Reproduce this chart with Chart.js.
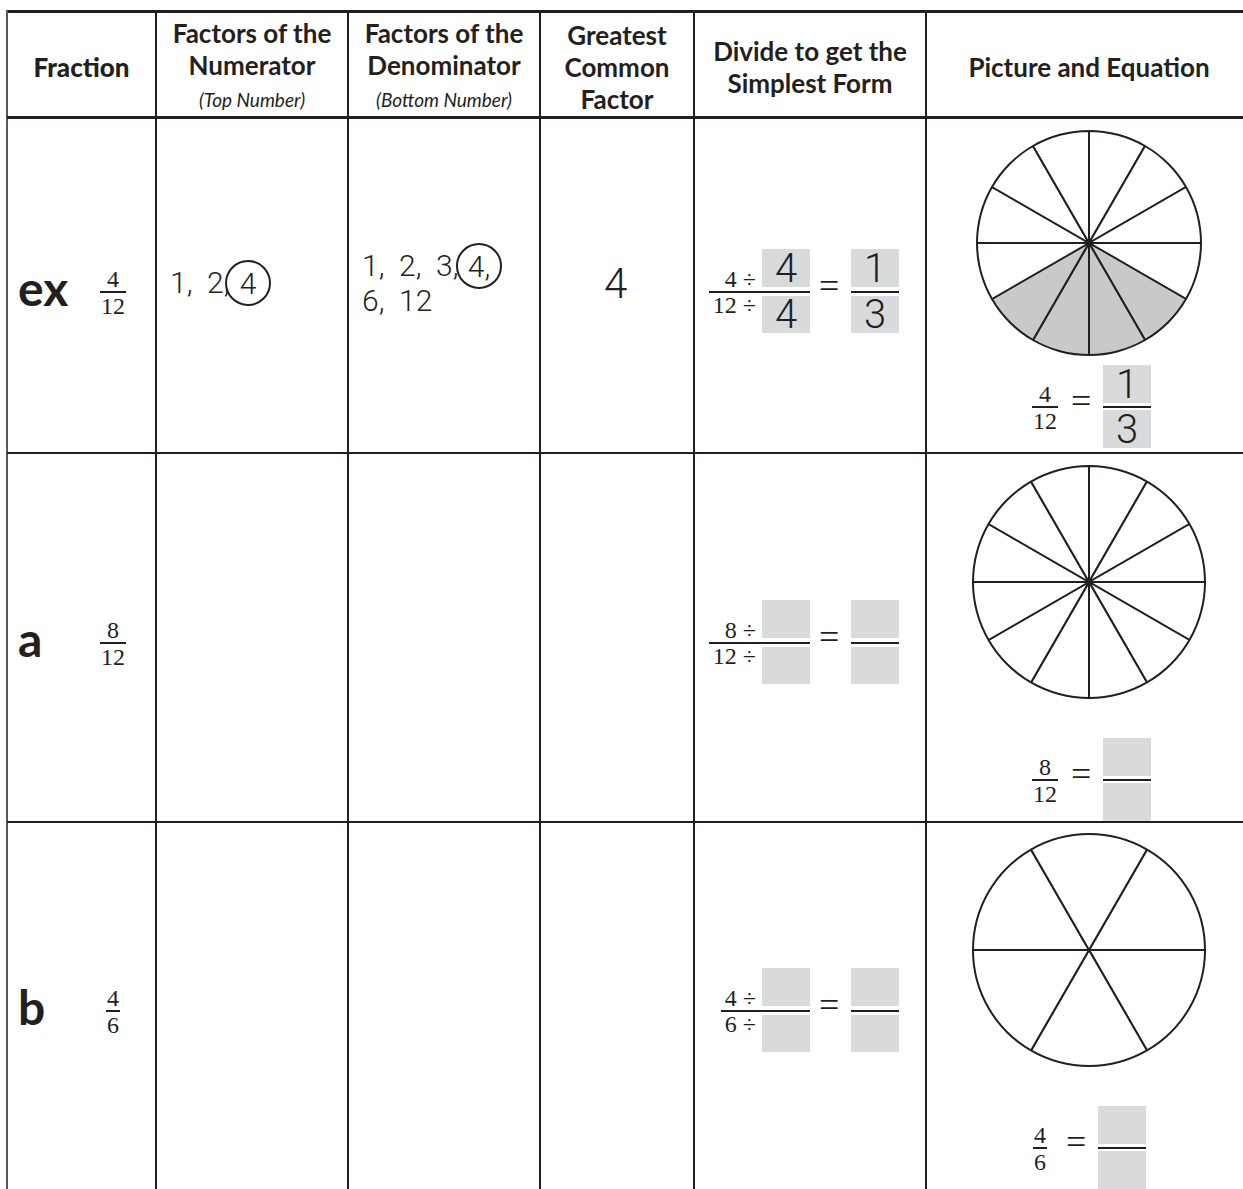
<!DOCTYPE html>
<html>
<head>
<meta charset="utf-8">
<script src="https://cdn.jsdelivr.net/npm/chart.js@4.4.1/dist/chart.umd.min.js"></script>
<style>
body { margin: 0; background: #fff; }
#page { position: relative; width: 1243px; height: 1189px; overflow: hidden; background: #fff; color: #231f20; }
.ln { position: absolute; background: #231f20; }
.hd { position: absolute; top: 14px; height: 105px; display: flex; flex-direction: column; justify-content: center; align-items: center;
      font-family: Lato, sans-serif; font-weight: bold; font-size: 26px; line-height: 32px; text-align: center; }
.hd i { font-weight: normal; font-size: 19px; }
.t { position: absolute; white-space: nowrap; }
.lbl { font-family: Lato, sans-serif; font-weight: bold; font-size: 48px; line-height: 48px; }
.serif { font-family: "Liberation Serif", serif; font-size: 24px; line-height: 24px; }
.eq { font-family: "Liberation Serif", serif; font-size: 36px; line-height: 36px; }
.hand { font-family: Roboto, sans-serif; font-weight: 300; }
.box { position: absolute; background: #d9dadc; display: flex; justify-content: center; align-items: center;
       font-family: Roboto, sans-serif; font-weight: 300; font-size: 40px; }
.ring { position: absolute; border: 2px solid #231f20; border-radius: 50%; box-sizing: border-box;
        display: flex; justify-content: center; align-items: center; font-family: Roboto, sans-serif; font-weight: 300; font-size: 30px; }
.sf { position: absolute; display: flex; flex-direction: column; align-items: center; transform: translateX(-50%); }
.sf .n, .sf .d { font-family: "Liberation Serif", serif; font-size: 24px; line-height: 24px; padding: 0 1px; }
.sf .d { margin-top: 1px; }
.sf .b { height: 1.5px; background: #231f20; align-self: stretch; }
canvas { position: absolute; }
</style>
</head>
<body>
<div id="page"></div>
<script>
// ---- data ----
const headers = [
  ['<b>Fraction</b>'],
  ['Factors of the', 'Numerator', '<i>(Top Number)</i>'],
  ['Factors of the', 'Denominator', '<i>(Bottom Number)</i>'],
  ['Greatest', 'Common', 'Factor'],
  ['Divide to get the', 'Simplest Form'],
  ['Picture and Equation']
];
const rowLabels = ['ex', 'a', 'b'];
const numerators = [4, 8, 4];
const denominators = [12, 12, 6];
const gcfAnswer = ['4', '', ''];
const simpleNum = ['1', '', ''];
const simpleDen = ['3', '', ''];

// pie slices (equal parts) and which ones are shaded
const exSlices = [1, 1, 1, 1, 1, 1, 1, 1, 1, 1, 1, 1];
const exShaded = [0, 0, 0, 0, 1, 1, 1, 1, 0, 0, 0, 0];
const aSlices = [1, 1, 1, 1, 1, 1, 1, 1, 1, 1, 1, 1];
const aShaded = [0, 0, 0, 0, 0, 0, 0, 0, 0, 0, 0, 0];
const bSlices = [1, 1, 1, 1, 1, 1];
const bShaded = [0, 0, 0, 0, 0, 0];
const pieRotation = [0, 0, 30];

// ---- layout ----
const colX = [7, 156, 348, 540, 694, 926, 1252];
const rowTop = [118, 453, 822];
const divBar = [292, 643, 1011];
const pieCY = [243, 582, 950];
const pieR = [112, 116, 116];
const picBar = [407, 780, 1148];

const page = document.getElementById('page');
function add(html) { page.insertAdjacentHTML('beforeend', html); }

// grid lines
add(`<div class="ln" style="left:7px;top:10px;width:1240px;height:3px"></div>`);
add(`<div class="ln" style="left:6px;top:10px;width:2px;height:1180px;background:#5a5758"></div>`);
colX.slice(1, 6).forEach(x => add(`<div class="ln" style="left:${x - 1}px;top:12px;width:2px;height:1180px"></div>`));
add(`<div class="ln" style="left:7px;top:116px;width:1240px;height:3px"></div>`);
rowTop.slice(1).forEach(y => add(`<div class="ln" style="left:7px;top:${y - 1}px;width:1240px;height:2px"></div>`));

// header
headers.forEach((h, i) => {
  add(`<div class="hd" style="left:${colX[i]}px;width:${colX[i + 1] - colX[i]}px">${h.map(s => `<div>${s}</div>`).join('')}</div>`);
});

function stackFrac(cx, bar, n, d) {
  add(`<div class="sf" style="left:${cx}px;top:${bar - 24.75}px"><div class="n">${n}</div><div class="b"></div><div class="d">${d}</div></div>`);
}

rowLabels.forEach((lab, i) => {
  const B = divBar[i];
  // row label + fraction
  add(`<div class="t lbl" style="left:18px;top:${B + 15 - 42.6}px">${lab}</div>`);
  stackFrac(113, B, numerators[i], denominators[i]);

  // divide to simplest form
  const nt = `${numerators[i]} ÷`, dt = `${denominators[i]} ÷`;
  add(`<div class="t serif" style="right:${1243 - 756}px;top:${B - 5 - 20}px">${nt}</div>`);
  add(`<div class="t serif" style="right:${1243 - 756}px;top:${B + 21 - 20}px">${dt}</div>`);
  const barLeft = String(denominators[i]).length > 1 ? 709 : 721;
  add(`<div class="ln" style="left:${barLeft}px;top:${B - 0.75}px;width:${810 - barLeft}px;height:1.5px"></div>`);
  add(`<div class="box" style="left:762px;top:${B - 43}px;width:48px;height:38px">${gcfAnswer[i]}</div>`);
  add(`<div class="box" style="left:762px;top:${B + 4}px;width:48px;height:37px">${gcfAnswer[i]}</div>`);
  add(`<div class="t eq" style="left:819px;top:${B - 24}px">=</div>`);
  add(`<div class="ln" style="left:851px;top:${B - 0.75}px;width:48px;height:1.5px"></div>`);
  add(`<div class="box" style="left:851px;top:${B - 43}px;width:48px;height:38px">${simpleNum[i]}</div>`);
  add(`<div class="box" style="left:851px;top:${B + 4}px;width:48px;height:37px">${simpleDen[i]}</div>`);

  // picture equation under the pie
  const P = picBar[i];
  const bx = String(denominators[i]).length > 1 ? 1103 : 1098;
  stackFrac(bx - 58, P, numerators[i], denominators[i]);
  add(`<div class="t eq" style="left:${bx - 32}px;top:${P - 24}px">=</div>`);
  add(`<div class="ln" style="left:${bx}px;top:${P - 0.75}px;width:48px;height:1.5px"></div>`);
  add(`<div class="box" style="left:${bx}px;top:${P - 42}px;width:48px;height:38px">${simpleNum[i]}</div>`);
  add(`<div class="box" style="left:${bx}px;top:${P + 3}px;width:48px;height:38px">${simpleDen[i]}</div>`);
});

// worked example: factor lists and GCF
add(`<div class="t hand" style="left:170px;top:268px;font-size:30px;line-height:30px">1,&nbsp; 2,</div>`);
add(`<div class="ring" style="left:225px;top:260px;width:46px;height:46px">4</div>`);
add(`<div class="t hand" style="left:362px;top:251px;font-size:30px;line-height:30px">1,&nbsp; 2,&nbsp; 3,</div>`);
add(`<div class="ring" style="left:456px;top:243px;width:46px;height:46px">4,</div>`);
add(`<div class="t hand" style="left:362px;top:286px;font-size:30px;line-height:30px">6,&nbsp; 12</div>`);
add(`<div class="t hand" style="left:604px;top:263px;font-size:42px;line-height:42px">${gcfAnswer[0]}</div>`);

// pies
const pies = [[exSlices, exShaded], [aSlices, aShaded], [bSlices, bShaded]];
pies.forEach(([slices, shaded], i) => {
  const size = pieR[i] * 2 + 2;
  const c = document.createElement('canvas');
  c.width = size; c.height = size;
  c.style.left = (1089 - size / 2) + 'px';
  c.style.top = (pieCY[i] - size / 2) + 'px';
  page.appendChild(c);
  new Chart(c, {
    type: 'pie',
    data: {
      datasets: [{
        data: slices,
        backgroundColor: shaded.map(s => s ? '#c8c9cb' : '#ffffff'),
        borderColor: '#231f20',
        borderWidth: 2
      }]
    },
    options: {
      responsive: false,
      animation: false,
      rotation: pieRotation[i],
      events: [],
      layout: { padding: 0 },
      plugins: { legend: { display: false }, tooltip: { enabled: false } }
    }
  });
});
</script>
</body>
</html>
